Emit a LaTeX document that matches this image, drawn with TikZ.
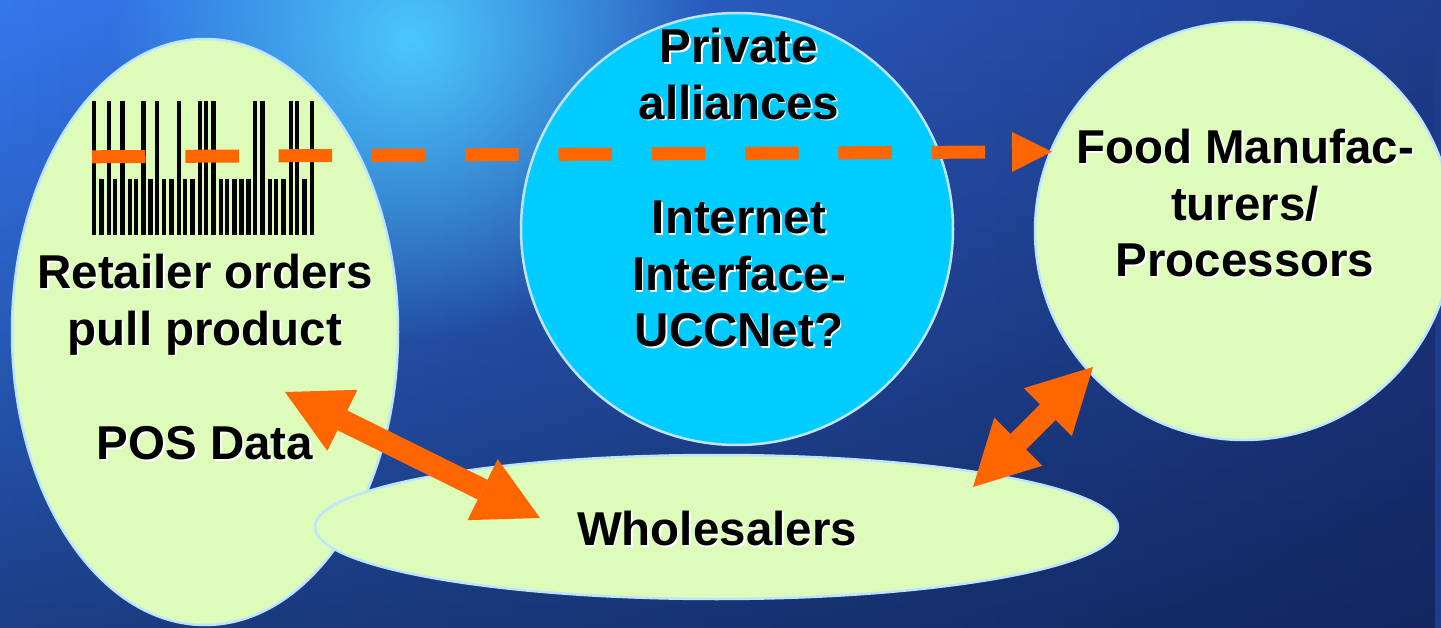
\documentclass[tikz,border=0pt]{standalone}
\usepackage{fontspec}
\setmainfont{Liberation Sans}
\usetikzlibrary{arrows.meta,fadings,shapes.geometric}
\definecolor{bgL}{HTML}{3478EE}
\definecolor{bgR}{HTML}{1F3C8C}
\definecolor{bgDark}{HTML}{0B1840}
\definecolor{glowc}{HTML}{4FD2FF}
\definecolor{leaf}{HTML}{DDFCBA}
\definecolor{rim}{HTML}{BFE4FF}
\definecolor{skyc}{HTML}{00CCFF}
\definecolor{orng}{HTML}{FF6600}
\tikzfading[name=glowfade, inner color=transparent!0, outer color=transparent!100]
\tikzfading[name=fadeup, top color=transparent!100, bottom color=transparent!0]
\newcommand\shd[1]{\leavevmode\rlap{\hspace{1.8pt}\raisebox{-1.8pt}{\color{white}#1}}#1}
\begin{document}
\begin{tikzpicture}[x=1pt,y=-1pt,
  blob/.style={draw=rim, line width=2.5pt, fill=leaf, inner sep=0pt},
  lbl/.style={font=\fontsize{47.5}{56.5}\selectfont\bfseries, align=center, inner sep=0pt, anchor=north, text=black},
  dashline/.style={draw=orng, line width=13pt, dash pattern=on 53.5pt off 39.8pt, -{Triangle[length=40pt,width=40pt,line width=0pt]}},
  fatarrow/.style={draw=orng, line width=22pt, {Triangle[length=64pt,width=68pt,line width=0pt]}-{Triangle[length=64pt,width=68pt,line width=0pt]}},
  barc/.style={fill=black}
]
\useasboundingbox (0,0) rectangle (1441,628);
\clip (0,0) rectangle (1441,628);
% background
\shade[left color=bgL, right color=bgR] (0,0) rectangle (1441,628);
\fill[bgDark, path fading=fadeup, opacity=0.6] (0,0) rectangle (1441,628);
\fill[glowc, path fading=glowfade, opacity=0.9] (410,40) circle (300);

% shapes
\node[blob, ellipse, minimum width=386pt, minimum height=586pt] (retailer) at (205,332) {};
\node[blob, ellipse, minimum width=803pt, minimum height=144pt] (wholesalers) at (716.5,527) {};
\node[blob, fill=skyc, circle, minimum size=432pt] (alliance) at (737,229) {};
\node[blob, circle, minimum size=418pt] (food) at (1244,231) {};

% barcode
\foreach \a/\b in {92/96,106.7/111,120/124.7,141/145.7,155/158.7,177/180.7,198/201.7,204/207.7,211/215.7,253/257,260/265,289/292.7,295/298.7,310/313.7}
  \fill[barc] (\a,101) rectangle (\b,235);
\foreach \a/\b in {99/104,113/117,128/131.7,134/138,148/152.7,162/166.3,169/173.7,183/186.7,190/194.7,219/222.7,225/229,232/236.7,239/243.7,246/250.7,268/272,274/278,281/285.7,302/306.7}
  \fill[barc] (\a,179) rectangle (\b,235);

% texts
\node[lbl] (rettxt) at (205,254) {\shd{Retailer orders}\\\shd{pull product}};
\node[lbl] (postxt) at (205,426) {\shd{POS Data}};
\node[lbl] (privtxt) at (739,28) {\shd{Private}\\\shd{alliances}};
\node[lbl] (nettxt) at (739,201) {\shd{Internet}\\\shd{Interface-}\\\shd{UCCNet?}};
\node[lbl] (foodtxt) at (1245,129) {\shd{Food Manufac-}\\\shd{turers/}\\\shd{Processors}};
\node[lbl] (whtxt) at (717,511) {\shd{Wholesalers}};

% connectors
\coordinate (dstart) at (92,156.8);
\coordinate (dtip) at (1052,151.7);
\draw[dashline] (dstart) -- (dtip);
\coordinate (a1s) at (285,392);
\coordinate (a1e) at (540,518);
\draw[fatarrow] (a1s) -- (a1e);
\coordinate (a2s) at (973,487);
\coordinate (a2e) at (1093,367);
\draw[fatarrow] (a2s) -- (a2e);
\end{tikzpicture}
\end{document}
